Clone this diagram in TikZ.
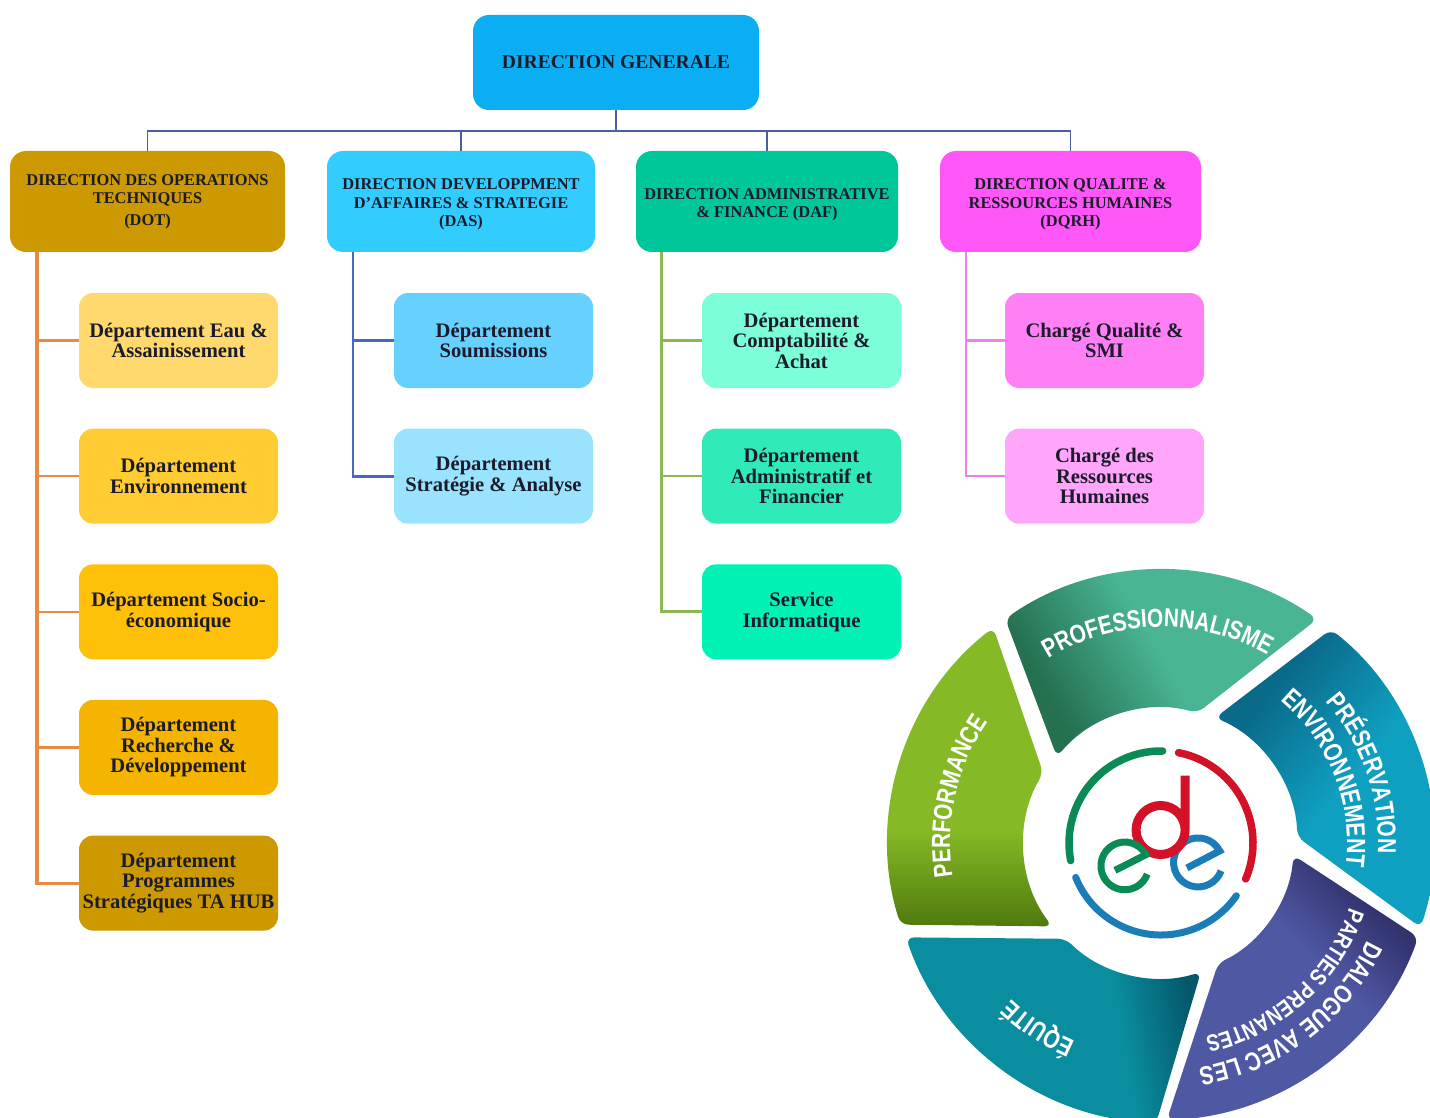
\documentclass[tikz,border=0pt]{standalone}
\usepackage{fontspec}
\usepackage{tikz}
\usetikzlibrary{positioning,decorations.text}

\setmainfont{Liberation Serif}
\newfontfamily\wheelfont[FakeStretch=0.8,UprightFont=* Bold]{Liberation Sans}
\newcommand{\toplift}{\rule{0pt}{17pt}}

\definecolor{inkdark}{HTML}{1B1B2B}
\definecolor{busblue}{HTML}{4A5FA0}
\definecolor{rootcol}{HTML}{0BAEF2}
\definecolor{dotcol}{HTML}{CC9900}
\definecolor{dascol}{HTML}{33CCFF}
\definecolor{dafcol}{HTML}{00C79A}
\definecolor{dqrhcol}{HTML}{FF57F7}
\definecolor{dotlink}{HTML}{E58B45}
\definecolor{daslink}{HTML}{4A66C4}
\definecolor{daflink}{HTML}{8DB654}
\definecolor{dqrhlink}{HTML}{F07FE8}

\definecolor{profbase}{HTML}{49B595}
\definecolor{profdark}{HTML}{24704F}
\definecolor{perfbase}{HTML}{85B925}
\definecolor{perfdark}{HTML}{4F7A0E}
\definecolor{equibase}{HTML}{0A8E9F}
\definecolor{equidark}{HTML}{05586C}
\definecolor{presbase}{HTML}{0F9FC0}
\definecolor{presdark}{HTML}{0A6A8A}
\definecolor{dialbase}{HTML}{4F58A3}
\definecolor{dialdark}{HTML}{33346F}
\definecolor{logogreen}{HTML}{0A8A55}
\definecolor{logored}{HTML}{D31228}
\definecolor{logoblue}{HTML}{1B7DB8}

\pgfdeclarehorizontalshading{profshade}{100bp}{color(0bp)=(profdark); color(28bp)=(profdark); color(50bp)=(profbase); color(100bp)=(profbase)}
\pgfdeclareverticalshading{perfshade}{100bp}{color(0bp)=(perfdark); color(25bp)=(perfdark); color(41bp)=(perfbase); color(100bp)=(perfbase)}
\pgfdeclarehorizontalshading{equishade}{100bp}{color(0bp)=(equidark); color(25bp)=(equidark); color(38bp)=(equibase); color(100bp)=(equibase)}
\pgfdeclarehorizontalshading{presshade}{100bp}{color(0bp)=(presdark); color(30bp)=(presdark); color(52bp)=(presbase); color(100bp)=(presbase)}
\pgfdeclarehorizontalshading{dialshade}{100bp}{color(0bp)=(dialdark); color(28bp)=(dialdark); color(43bp)=(dialbase); color(100bp)=(dialbase)}

\begin{document}
\begin{tikzpicture}[x=1pt,y=1pt,node distance=40.25pt]
	\tikzstyle{every node}=[rectangle,align=center,inner sep=0pt,text=inkdark,font=\bfseries]
	\tikzstyle{boss}=[rounded corners=16pt,minimum height=95pt,minimum width=286pt,font=\bfseries\fontsize{19.6}{24}\selectfont]
	\tikzstyle{direction}=[rounded corners=16pt,minimum height=101pt,font=\bfseries\fontsize{16.4}{18.5}\selectfont]
	\tikzstyle{dept}=[rounded corners=14pt,minimum height=95pt,minimum width=199pt,font=\bfseries\fontsize{20.6}{20.5}\selectfont]
	\tikzstyle{bus}=[draw=busblue,line width=1.8pt]
	\tikzstyle{segment}=[rounded corners=8pt]
	\tikzstyle{wheeltext}=[decorate,decoration={text along path,text align=center}]

	\useasboundingbox (0,0) rectangle (1430,-1118);

	% top of the chart
	\node[boss,fill=rootcol] (root) at (616,-62.5) {DIRECTION GENERALE};
	\node[direction,fill=dotcol,minimum width=275pt] (dot) at (147.5,-201.5) {DIRECTION DES OPERATIONS\\TECHNIQUES\\[3pt](DOT)};
	\node[direction,fill=dascol,minimum width=268pt] (das) at (461,-201.5) {\toplift DIRECTION DEVELOPPMENT\\D'AFFAIRES \& STRATEGIE\\(DAS)};
	\node[direction,fill=dafcol,minimum width=262pt] (daf) at (767,-201.5) {\toplift DIRECTION ADMINISTRATIVE\\\& FINANCE (DAF)};
	\node[direction,fill=dqrhcol,minimum width=261pt] (dqrh) at (1070.5,-201.5) {\toplift DIRECTION QUALITE \&\\RESSOURCES HUMAINES\\(DQRH)};

	% first column
	\node[dept,fill={rgb,255:red,255;green,217;blue,110}] (eau) at (178.5,-340.5) {Département Eau \&\\Assainissement};
	\node[dept,fill={rgb,255:red,255;green,204;blue,51},below=of eau] (envi) {Département\\Environnement};
	\node[dept,fill={rgb,255:red,255;green,192;blue,10},below=of envi] (socio) {Département Socio-\\économique};
	\node[dept,fill={rgb,255:red,245;green,180;blue,0},below=of socio] (reche) {Département\\Recherche \&\\Développement};
	\node[dept,fill={rgb,255:red,204;green,153;blue,0},below=of reche] (progr) {Département\\Programmes\\Stratégiques TA HUB};

	% second column
	\node[dept,fill={rgb,255:red,102;green,208;blue,255}] (soum) at (493.5,-340.5) {Département\\Soumissions};
	\node[dept,fill={rgb,255:red,153;green,227;blue,255},below=of soum] (strat) {Département\\Stratégie \& Analyse};

	% third column
	\node[dept,fill={rgb,255:red,124;green,255;blue,216}] (compta) at (801.5,-340.5) {Département\\Comptabilité \&\\Achat};
	\node[dept,fill={rgb,255:red,48;green,235;blue,184},below=of compta] (admin) {Département\\Administratif et\\Financier};
	\node[dept,fill={rgb,255:red,0;green,242;blue,181},below=of admin] (info) {Service\\Informatique};

	% fourth column
	\node[dept,fill={rgb,255:red,255;green,128;blue,245}] (qual) at (1104.5,-340.5) {Chargé Qualité \&\\SMI};
	\node[dept,fill={rgb,255:red,255;green,166;blue,251},below=of qual] (rh) {Chargé des\\Ressources\\Humaines};

	% connectors
	\coordinate (busmid) at (616,-131);
	\draw[bus,line width=2.6pt] (root.south) -- (busmid);
	\draw[bus] (busmid) -| (dot.north);
	\draw[bus] (busmid) -| (das.north);
	\draw[bus] (busmid) -| (daf.north);
	\draw[bus] (busmid) -| (dqrh.north);

	\coordinate (dotfoot) at (37,-252);
	\draw[dotlink,line width=3.2pt] (dotfoot) |- (progr.west);
	\draw[dotlink,line width=2.4pt] (dotfoot) |- (eau.west);
	\draw[dotlink,line width=2.4pt] (dotfoot) |- (envi.west);
	\draw[dotlink,line width=2.4pt] (dotfoot) |- (socio.west);
	\draw[dotlink,line width=2.4pt] (dotfoot) |- (reche.west);

	\coordinate (dasfoot) at (353,-252);
	\draw[daslink,line width=2.8pt] (dasfoot) |- (strat.west);
	\draw[daslink,line width=2.8pt] (dasfoot) |- (soum.west);

	\coordinate (daffoot) at (661.5,-252);
	\draw[daflink,line width=2.8pt] (daffoot) |- (info.west);
	\draw[daflink,line width=2.4pt] (daffoot) |- (compta.west);
	\draw[daflink,line width=2.4pt] (daffoot) |- (admin.west);

	\coordinate (dqrhfoot) at (966,-252);
	\draw[dqrhlink,line width=2.6pt] (dqrhfoot) |- (rh.west);
	\draw[dqrhlink,line width=2.4pt] (dqrhfoot) |- (qual.west);

	% the wheel
	\begin{scope}[shift={(1161,-843)}]
		\shade[segment,shading=profshade,shading angle=30] (124.8:273) arc[start angle=124.8,end angle=55.1,radius=273] -- (74.4:135) arc[start angle=74.4,end angle=140.4,radius=135] -- cycle;
		\shade[segment,shading=perfshade] (127.9:273) arc[start angle=127.9,end angle=197.4,radius=273] -- (217.5:137) arc[start angle=217.5,end angle=149.3,radius=137] -- cycle;
		\shade[segment,shading=equishade,shading angle=190] (200.3:272) arc[start angle=199,end angle=268,radius=275] -- (287.2:135) arc[start angle=287.2,end angle=225.2,radius=135] -- cycle;
		\shade[segment,shading=dialshade,shading angle=225] (-20.1:274) arc[start angle=-20,end angle=-88,radius=278] -- (295.5:133) arc[start angle=-64.5,end angle=-5.3,radius=133] -- cycle;
		\shade[segment,shading=presshade,shading angle=-40] (51.5:273) arc[start angle=51.5,end angle=-18,radius=273] -- (2.5:136.5) arc[start angle=2.5,end angle=66.6,radius=136.5] -- cycle;

		\path[wheeltext,decoration={text={|\wheelfont\fontsize{26}{26}\selectfont\color{white}|PROFESSIONNALISME}}] (125:216) arc[start angle=125,end angle=57,radius=216];
		\path[wheeltext,decoration={text={|\wheelfont\fontsize{26}{26}\selectfont\color{white}|PERFORMANCE}}] (191:211) arc[start angle=191,end angle=143,radius=211];
		\path[wheeltext,decoration={text={|\wheelfont\fontsize{26}{26}\selectfont\color{white}|ÉQUITÉ}}] (-108:216) arc[start angle=-108,end angle=-139,radius=216];
		\path[wheeltext,decoration={text={|\wheelfont\fontsize{26}{26}\selectfont\color{white}|PRÉSERVATION}}] (45:217) arc[start angle=45,end angle=-7,radius=217];
		\path[wheeltext,decoration={text={|\wheelfont\fontsize{26.5}{26.5}\selectfont\color{white}|ENVIRONNEMENT}}] (55:186) arc[start angle=55,end angle=-12,radius=186];
		\path[wheeltext,decoration={text={|\wheelfont\fontsize{26}{26}\selectfont\color{white}|DIALOGUE AVEC LES}}] (-22:228) arc[start angle=-22,end angle=-84,radius=228];
		\path[wheeltext,decoration={text={|\wheelfont\fontsize{23.5}{23.5}\selectfont\color{white}|PARTIES PRENANTES}}] (-16:199) arc[start angle=-16,end angle=-80,radius=199];

		% the logo ring
		\draw[logogreen,line width=7.5pt,line cap=round] (89:92) arc[start angle=89,end angle=191,radius=92];
		\draw[logored,line width=7.5pt,line cap=round] (79:92) arc[start angle=79,end angle=-23,radius=92];
		\draw[logoblue,line width=7pt,line cap=round] (202:92) arc[start angle=202,end angle=325,radius=92];
	\end{scope}

	% the logo letters
	\draw[logoblue,line width=7pt] (1186.9,-868) -- (1219.7,-850.9) arc[start angle=28,end angle=340,radius=24.5];
	\draw[logored,line width=9pt] (1185.1,-775.7) -- (1185.1,-830) arc[start angle=0,end angle=360,radius=24.5];
	\draw[logogreen,line width=7pt] (1115,-870.4) -- (1145.9,-854.7) arc[start angle=28,end angle=340,radius=23.9];
\end{tikzpicture}
\end{document}
